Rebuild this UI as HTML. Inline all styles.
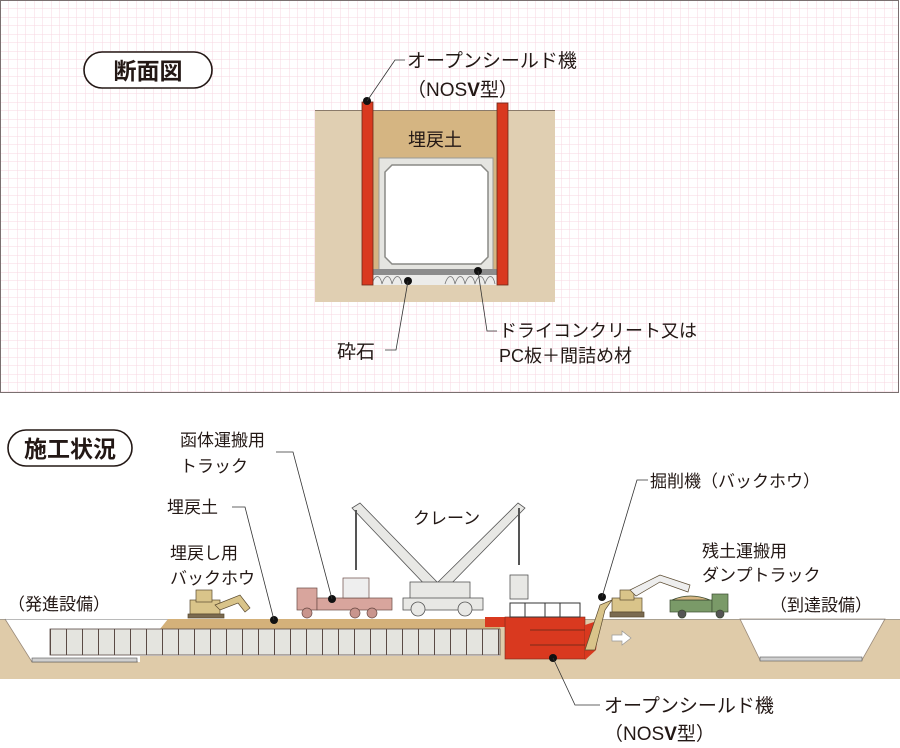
<!DOCTYPE html>
<html><head><meta charset="utf-8"><style>
body{margin:0;background:#fff;}
svg text{font-family:"Liberation Sans","Noto Sans CJK JP",sans-serif;fill:#231815;}
</style></head><body>
<svg width="900" height="743" viewBox="0 0 900 743" xmlns="http://www.w3.org/2000/svg">
<defs>
<pattern id="g" width="8.5" height="8.5" patternUnits="userSpaceOnUse">
<path d="M0 0H8.5M0 0V8.5" stroke="#f7d7e2" stroke-width="1" fill="none"/>
</pattern>
<pattern id="seg" x="50" width="16" height="30" patternUnits="userSpaceOnUse">
<rect width="16" height="30" fill="#e4e4df"/><line x1="0.5" y1="0" x2="0.5" y2="30" stroke="#5a4a44" stroke-width="1"/>
</pattern>
</defs>
<!-- top panel -->
<rect x="0.5" y="0.5" width="898" height="392" fill="#fff" stroke="#7a7070"/>
<rect x="1" y="1" width="897" height="391" fill="url(#g)"/>
<rect x="84" y="52" width="128" height="36" rx="18" fill="#fff" stroke="#231815" stroke-width="1.6"/>
<text x="148" y="79" font-size="23" font-weight="bold" text-anchor="middle">断面図</text>
<!-- cross section -->
<rect x="315" y="110" width="240" height="192" fill="#e0cfb2"/>
<line x1="315" y1="110.5" x2="555" y2="110.5" stroke="#8a7a6a"/>
<rect x="370" y="111" width="130" height="165" fill="#d5b582"/>
<rect x="379" y="158" width="114" height="112" fill="#e5e5e1" stroke="#9a9a96"/>
<path d="M392 165H481L488 172V257L481 264H392L385 257V172Z" fill="#fff" stroke="#8a8a86" stroke-width="1.5"/>
<rect x="370" y="269" width="130" height="6" fill="#8c8c8c"/>
<rect x="370" y="275" width="130" height="10" fill="#ececea"/>
<path d="M372 284c3-10 8-10 10 0c3-10 8-10 10 0c3-10 8-10 10 0M445 284c3-10 8-10 10 0c3-10 8-10 10 0c3-10 8-10 10 0c3-10 8-10 10 0c3-10 8-10 10 0" fill="none" stroke="#777" stroke-width="0.8"/>
<rect x="362" y="102" width="11" height="183" fill="#d9391f" stroke="#6b2a1a" stroke-width="0.8"/>
<rect x="497" y="103" width="11" height="182" fill="#d9391f" stroke="#6b2a1a" stroke-width="0.8"/>
<circle cx="367" cy="101" r="4" fill="#111"/>
<polyline points="367,101 395,60 405,60" fill="none" stroke="#333" stroke-width="0.8"/>
<text x="407" y="67" font-size="19">オープンシールド機</text>
<text x="407" y="96" font-size="19">（NOS<tspan font-weight="bold">V</tspan>型）</text>
<text x="435" y="146" font-size="18" text-anchor="middle">埋戻土</text>
<circle cx="408" cy="281" r="4" fill="#111"/>
<polyline points="408,281 396,350 385,350" fill="none" stroke="#333" stroke-width="0.8"/>
<text x="337" y="358" font-size="19">砕石</text>
<circle cx="478" cy="271" r="4" fill="#111"/>
<polyline points="478,271 487,331 497,331" fill="none" stroke="#333" stroke-width="0.8"/>
<text x="499" y="337" font-size="18">ドライコンクリート又は</text>
<text x="499" y="362" font-size="18">PC板＋間詰め材</text>

<!-- bottom -->
<rect x="8" y="430" width="124" height="36" rx="18" fill="#fff" stroke="#231815" stroke-width="1.6"/>
<text x="70" y="457" font-size="23" font-weight="bold" text-anchor="middle">施工状況</text>
<!-- ground -->
<rect x="0" y="619" width="900" height="60" fill="#dfcba9"/>
<path d="M5 619L32 662H140V656H500V629H162L168 619Z" fill="#fff"/>
<path d="M5 619L32 662H138" fill="none" stroke="#9a8a7a" stroke-width="0.8"/>
<path d="M740 619L760 660H862L885 619Z" fill="#fff" stroke="#9a8a7a" stroke-width="0.8"/>
<line x1="0" y1="619.5" x2="900" y2="619.5" stroke="#777" stroke-width="0.6"/>
<path d="M160 629L168 619H500V629Z" fill="#d4b17a"/>
<rect x="32" y="658" width="105" height="4" fill="#cfcfcf" stroke="#555" stroke-width="0.6"/>
<rect x="760" y="657" width="102" height="4" fill="#cfcfcf" stroke="#555" stroke-width="0.6"/>
<rect x="50" y="629" width="450" height="26" fill="url(#seg)" stroke="#5a4a44" stroke-width="0.8"/>
<!-- shield -->
<rect x="485" y="617" width="95" height="10" fill="#d9391f"/>
<rect x="505" y="617" width="80" height="42" fill="#d9391f" stroke="#7a2a1a" stroke-width="0.6"/>
<path d="M585 625L600 620L596 650L585 660Z" fill="#d9391f"/>
<path d="M510 603H580V617H510Z" fill="none" stroke="#333"/>
<line x1="525" y1="603" x2="525" y2="617" stroke="#333"/><line x1="545" y1="603" x2="545" y2="617" stroke="#333"/><line x1="560" y1="603" x2="560" y2="617" stroke="#333"/>
<line x1="530" y1="630" x2="585" y2="630" stroke="#7a2a1a"/><line x1="530" y1="645" x2="585" y2="645" stroke="#7a2a1a"/>
<path d="M612 635H622V631L631 638L622 645V641H612Z" fill="#fff" stroke="#999" stroke-width="0.7"/>
<!-- backhoe left -->
<g fill="#d9c48a" stroke="#5a4a30" stroke-width="0.7">
<rect x="190" y="600" width="30" height="14"/><rect x="196" y="590" width="16" height="12"/>
<rect x="188" y="614" width="36" height="4" fill="#7a6a50"/>
<path d="M215 605L240 595L250 608L245 612L238 603L220 610Z"/>
</g>
<!-- truck -->
<g stroke="#6a4a44" stroke-width="0.7">
<rect x="297" y="588" width="20" height="22" fill="#d8a59d"/>
<rect x="317" y="598" width="75" height="12" fill="#d8a59d"/>
<rect x="343" y="578" width="26" height="20" fill="#eee"/>
<circle cx="307" cy="613" r="5" fill="#c9958d"/><circle cx="355" cy="613" r="5" fill="#c9958d"/><circle cx="372" cy="613" r="5" fill="#c9958d"/>
</g>
<circle cx="332" cy="599" r="4" fill="#111"/>
<!-- crane -->
<g stroke="#555" stroke-width="0.8" fill="#e8e8e5">
<path d="M352 508L360 503L440 585L430 590Z"/>
<path d="M518 503L525 508L445 590L435 585Z"/>
<line x1="356" y1="510" x2="356" y2="570" stroke-width="2"/>
<line x1="519" y1="508" x2="519" y2="565" stroke-width="2"/>
<rect x="510" y="575" width="18" height="24"/>
<rect x="410" y="582" width="60" height="22"/>
<rect x="403" y="598" width="80" height="12"/>
<circle cx="418" cy="609" r="7"/><circle cx="465" cy="609" r="7"/>
</g>
<!-- excavator right -->
<g fill="#d9c48a" stroke="#5a4a30" stroke-width="0.7">
<rect x="612" y="598" width="30" height="14"/><rect x="620" y="590" width="14" height="10"/>
<rect x="610" y="612" width="34" height="5" fill="#7a6a50"/>
<path d="M630 590L660 575L690 585L688 592L660 582L636 596Z" fill="#eee"/>
<path d="M612 600L600 605L585 650L595 650L605 610Z"/>
</g>
<circle cx="602" cy="597" r="4" fill="#111"/>
<!-- dump truck -->
<g stroke="#3a4a30" stroke-width="0.7">
<rect x="670" y="600" width="42" height="12" fill="#7a9a68"/>
<path d="M672 600Q690 592 710 600Z" fill="#d5b582"/>
<rect x="712" y="594" width="16" height="18" fill="#7a9a68"/>
<circle cx="682" cy="614" r="4" fill="#555"/><circle cx="720" cy="614" r="4" fill="#555"/>
</g>
<circle cx="553" cy="658" r="4" fill="#111"/>
<circle cx="274" cy="620" r="4" fill="#111"/>
<!-- leader lines -->
<g fill="none" stroke="#333" stroke-width="0.8">
<polyline points="274,620 245,507 232,507"/>
<polyline points="332,599 293,452 276,452"/>
<polyline points="602,597 637,480 648,480"/>
<polyline points="553,658 575,705 600,705"/>
</g>
<text x="180" y="446" font-size="17">函体運搬用</text>
<text x="180" y="472" font-size="17">トラック</text>
<text x="167" y="513" font-size="17">埋戻土</text>
<text x="170" y="559" font-size="17">埋戻し用</text>
<text x="170" y="584" font-size="17">バックホウ</text>
<text x="8" y="610" font-size="17">（発進設備）</text>
<text x="413" y="524" font-size="17">クレーン</text>
<text x="650" y="487" font-size="17">掘削機（バックホウ）</text>
<text x="702" y="557" font-size="17">残土運搬用</text>
<text x="702" y="581" font-size="17">ダンプトラック</text>
<text x="770" y="611" font-size="17">（到達設備）</text>
<text x="604" y="712" font-size="19">オープンシールド機</text>
<text x="604" y="740" font-size="19">（NOS<tspan font-weight="bold">V</tspan>型）</text>
</svg>
</body></html>
